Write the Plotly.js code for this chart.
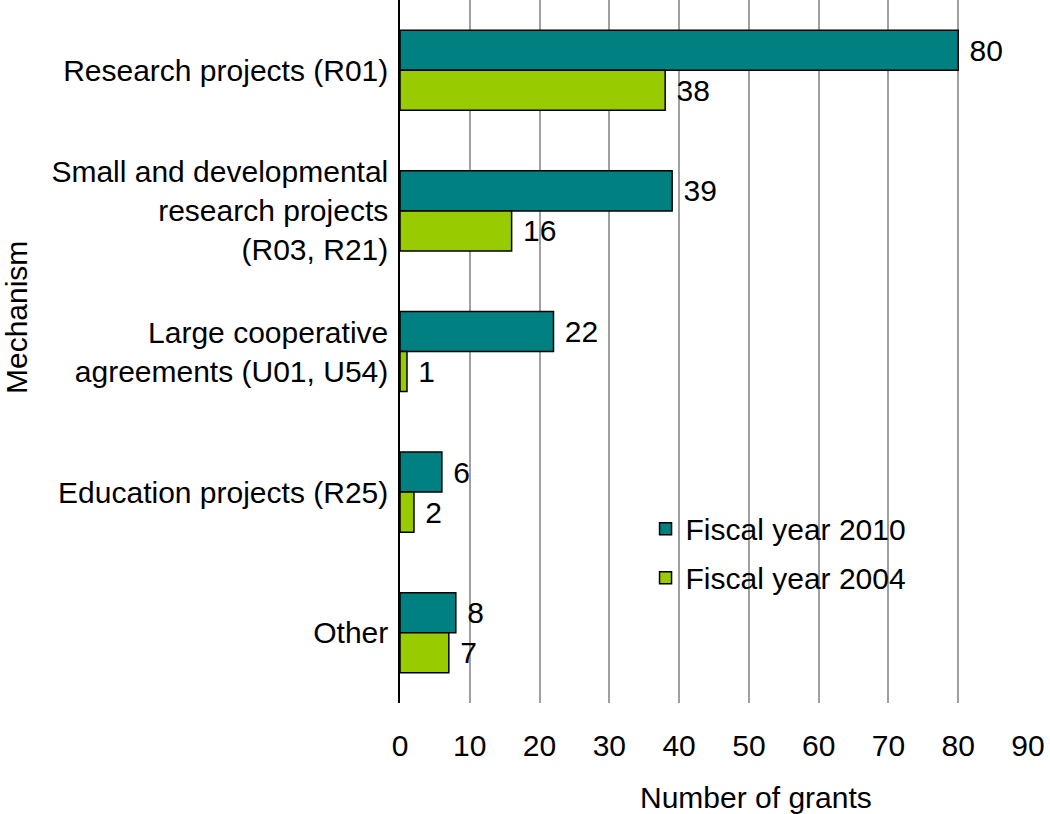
<!DOCTYPE html>
<html>
<head>
<meta charset="utf-8">
<script src="https://cdn.plot.ly/plotly-3.0.1.min.js"></script>
<style>html,body{margin:0;padding:0;background:#fff;}#chart{width:1050px;height:814px;}</style>
</head>
<body>
<div id="chart"></div>
<script>
const categories = [
  "Research projects (R01)",
  "Small and developmental<br>research projects<br>(R03, R21)",
  "Large cooperative<br>agreements (U01, U54)",
  "Education projects (R25)",
  "Other"
];
const fy2010 = [80, 39, 22, 6, 8];
const fy2004 = [38, 16, 1, 2, 7];
const seriesNames = ["Fiscal year 2010", "Fiscal year 2004"];
const xTicks = [0, 10, 20, 30, 40, 50, 60, 70, 80, 90];

const font = "Arial, 'Liberation Sans', sans-serif";
const fs = 30;

function bar(vals, name, color, grp) {
  return {
    type: "bar", orientation: "h", name: name, legendgroup: grp,
    y: categories, x: vals,
    text: vals.map(String), texttemplate: " %{text}", textposition: "outside",
    textfont: {family: font, size: fs, color: "#000"},
    constraintext: "none", cliponaxis: false,
    marker: {color: color, line: {color: "#000", width: 1.5}},
    hoverinfo: "x+name"
  };
}

const data = [bar(fy2010, seriesNames[0], "#008080", "a"), bar(fy2004, seriesNames[1], "#99CC00", "b")];

const layout = {
  width: 1050, height: 814,
  margin: {l: 400, r: 22, t: 0, b: 111},
  paper_bgcolor: "#fff", plot_bgcolor: "#fff",
  font: {family: font, size: fs, color: "#000"},
  barmode: "group", bargap: 0.43, bargroupgap: 0,
  showlegend: true,
  legend: {x: 0.391, y: 0.285, xanchor: "left", yanchor: "top", bgcolor: "rgba(0,0,0,0)",
           font: {family: font, size: fs, color: "#000"}, traceorder: "grouped", tracegroupgap: 7},
  xaxis: {
    range: [0, 90], tickvals: xTicks, ticktext: xTicks.map(String),
    showgrid: true, gridcolor: "#a0a0a0", gridwidth: 1.5,
    zeroline: false, showline: false, ticks: "", ticklabelstandoff: 22,
    tickfont: {family: font, size: fs, color: "#000"}, fixedrange: true
  },
  yaxis: {
    autorange: "reversed", type: "category",
    showline: true, linecolor: "#000", linewidth: 1.5,
    showgrid: false, zeroline: false, ticks: "", ticklabelstandoff: 4,
    tickfont: {family: font, size: fs, color: "#000"},
    fixedrange: true
  },
  annotations: [{
    text: "Number of grants", xref: "paper", yref: "paper",
    x: 0.567, y: 0, yshift: -94, xanchor: "center", yanchor: "middle",
    showarrow: false, font: {family: font, size: fs, color: "#000"}
  }, {
    text: "Mechanism", xref: "paper", yref: "paper", textangle: -90,
    x: -0.611, y: 0.548, xanchor: "center", yanchor: "middle",
    showarrow: false, font: {family: font, size: fs, color: "#000"}
  }]
};

Plotly.newPlot("chart", data, layout, {displayModeBar: false});
</script>
</body>
</html>
